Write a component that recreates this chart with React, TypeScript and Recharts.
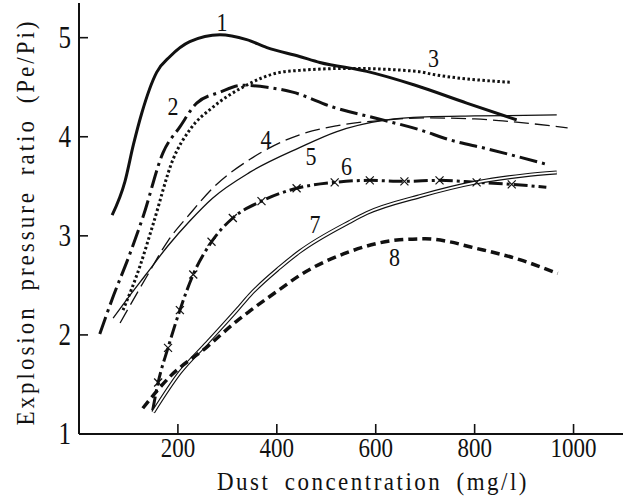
import React from 'react';
import { LineChart, Line, XAxis, YAxis, ReferenceDot } from 'recharts';

// axis ticks
const xTicks = [200, 400, 600, 800, 1000];
const yTicks = [1, 2, 3, 4, 5];

// [dust concentration (mg/l), Pe/Pi]
const curve1 = [
  [67, 3.21], [93, 3.55], [110, 3.92], [127, 4.24], [157, 4.65], [184, 4.81],
  [224, 4.96], [285, 5.03], [339, 4.98], [380, 4.9], [446, 4.81], [487, 4.75],
  [582, 4.66], [680, 4.52], [784, 4.34], [885, 4.17],
];
const curve2 = [
  [42, 2.01], [70, 2.4], [100, 2.78], [130, 3.2], [170, 3.84], [204, 4.1],
  [238, 4.34], [285, 4.45], [330, 4.52], [380, 4.5], [432, 4.45], [513, 4.3],
  [614, 4.17], [689, 4.07], [749, 3.97], [824, 3.88], [947, 3.72],
];
const curve3 = [
  [89, 2.25], [123, 2.69], [150, 3.12], [190, 3.77], [224, 4.07], [271, 4.3],
  [331, 4.5], [406, 4.65], [446, 4.67], [547, 4.69], [683, 4.66], [715, 4.63],
  [871, 4.55],
];
const curve4 = [
  [83, 2.12], [137, 2.59], [180, 2.95], [224, 3.22], [270, 3.48], [345, 3.77],
  [446, 4.02], [520, 4.11], [622, 4.17], [700, 4.19], [800, 4.18], [857, 4.16],
  [988, 4.09],
];
const curve5 = [
  [69, 2.17], [100, 2.38], [137, 2.62], [180, 2.9], [224, 3.15], [270, 3.38],
  [345, 3.64], [446, 3.89], [520, 4.05], [622, 4.17], [700, 4.2], [800, 4.21],
  [966, 4.22],
];
const curve6 = [
  [149, 1.24], [160, 1.52], [180, 1.87], [204, 2.25], [231, 2.61], [268, 2.94],
  [311, 3.18], [369, 3.35], [440, 3.48], [517, 3.54], [588, 3.56], [658, 3.55],
  [729, 3.56], [804, 3.54], [875, 3.52], [945, 3.49],
];
// which points of curve 6 carry an "x" marker
const curve6Marks = [1, 2, 3, 4, 5, 6, 7, 8, 9, 10, 11, 12, 13, 14];
const curve7 = [
  [150, 1.22], [204, 1.62], [259, 1.92], [319, 2.25], [345, 2.4], [406, 2.68],
  [446, 2.84], [547, 3.14], [582, 3.23], [689, 3.4], [804, 3.54], [900, 3.61],
  [966, 3.64],
];
const curve8 = [
  [129, 1.26], [184, 1.58], [259, 1.88], [319, 2.14], [345, 2.24], [406, 2.46],
  [446, 2.6], [547, 2.84], [648, 2.96], [700, 2.97], [749, 2.94], [790, 2.89],
  [891, 2.76], [968, 2.62],
];

const curveLabels = [
  { name: '1', x: 289, y: 5.15 },
  { name: '2', x: 190, y: 4.3 },
  { name: '3', x: 717, y: 4.78 },
  { name: '4', x: 378, y: 3.97 },
  { name: '5', x: 469, y: 3.8 },
  { name: '6', x: 541, y: 3.69 },
  { name: '7', x: 477, y: 3.11 },
  { name: '8', x: 638, y: 2.78 },
];

const INK = '#111';
const SERIF = '"Liberation Serif", "Times New Roman", serif';

const toPoints = (pts: number[][]) => pts.map(([x, y]) => ({ x, y }));

// text stretched vertically, the print uses a tall condensed face
const TallText = ({ x, y, size, stretch = 1.2, anchor = 'middle', rotate = 0, spacing = 0, wordSpacing = 0, children }: any) => (
  <text
    transform={`translate(${x},${y}) rotate(${rotate}) scale(1,${stretch})`}
    textAnchor={anchor}
    fontFamily={SERIF}
    fontSize={size}
    fill={INK}
    style={{ letterSpacing: spacing, wordSpacing }}
  >
    {children}
  </text>
);

const XTick = ({ x, y, payload }: any) => (
  <g>
    <line x1={x} y1={y} x2={x} y2={y - 10} stroke={INK} strokeWidth={1.6} />
    <TallText x={x} y={y + 23} size={23} stretch={1.22}>
      {payload.value}
    </TallText>
  </g>
);

const YTick = ({ x, y, payload }: any) => (
  <g>
    <line x1={x} y1={y} x2={x + 9} y2={y} stroke={INK} strokeWidth={1.6} />
    <TallText x={x - 8} y={y + 10} size={25} stretch={1.3} anchor="end">
      {payload.value}
    </TallText>
  </g>
);

const XTitle = ({ viewBox }: any) => {
  const vb = viewBox || { x: 79, y: 434 };
  return (
    <TallText x={vb.x + 294} y={vb.y + 56} size={23} stretch={1.12} spacing={2.5} wordSpacing={6}>
      Dust concentration (mg/l)
    </TallText>
  );
};

const YTitle = ({ viewBox }: any) => {
  const vb = viewBox || { x: 0, y: 3 };
  return (
    <TallText x={vb.x + 34} y={vb.y + 219} size={23} stretch={1.12} rotate={-90} spacing={3} wordSpacing={6}>
      Explosion pressure ratio (Pe/Pi)
    </TallText>
  );
};

const renderCross = (props: any) => {
  const { cx, cy, index } = props;
  if (!curve6Marks.includes(index)) return <g key={`c6-${index}`} />;
  const s = 4;
  return (
    <g key={`c6-${index}`}>
      <line x1={cx - s} y1={cy - s} x2={cx + s} y2={cy + s} stroke={INK} strokeWidth={1.2} />
      <line x1={cx - s} y1={cy + s} x2={cx + s} y2={cy - s} stroke={INK} strokeWidth={1.2} />
    </g>
  );
};

const CurveLabel = (props: any) => (
  <TallText x={props.cx} y={props.cy + 8} size={22} stretch={1.15}>
    {props.name}
  </TallText>
);

export default function App() {
  return (
    <div style={{ position: 'absolute', left: 0, top: 0, width: 626, height: 497, background: '#fff' }}>
      <LineChart width={626} height={497} margin={{ top: 3, right: 3, bottom: 0, left: 0 }}>
        <XAxis
          type="number"
          dataKey="x"
          domain={[0, 1100]}
          ticks={xTicks}
          interval={0}
          allowDataOverflow
          height={63}
          tickSize={0}
          tickMargin={0}
          tickLine={false}
          axisLine={{ stroke: INK, strokeWidth: 2 }}
          tick={<XTick />}
          label={<XTitle />}
        />
        <YAxis
          type="number"
          dataKey="y"
          domain={[1, 5.35]}
          ticks={yTicks}
          interval={0}
          allowDataOverflow
          width={79}
          tickSize={0}
          tickMargin={0}
          tickLine={false}
          axisLine={{ stroke: INK, strokeWidth: 2 }}
          tick={<YTick />}
          label={<YTitle />}
        />

        {/* 1: thick solid */}
        <Line data={toPoints(curve1)} dataKey="y" type="monotone" stroke={INK} strokeWidth={3} dot={false} isAnimationActive={false} />
        {/* 2: thick dash-dot */}
        <Line data={toPoints(curve2)} dataKey="y" type="monotone" stroke={INK} strokeWidth={3} strokeDasharray="18 5 3 5" dot={false} isAnimationActive={false} />
        {/* 3: dotted */}
        <Line data={toPoints(curve3)} dataKey="y" type="monotone" stroke={INK} strokeWidth={3} strokeDasharray="2.5 2.5" dot={false} isAnimationActive={false} />
        {/* 4: thin long dash */}
        <Line data={toPoints(curve4)} dataKey="y" type="monotone" stroke={INK} strokeWidth={1.3} strokeDasharray="15 6" dot={false} isAnimationActive={false} />
        {/* 5: thin solid */}
        <Line data={toPoints(curve5)} dataKey="y" type="monotone" stroke={INK} strokeWidth={1.3} dot={false} isAnimationActive={false} />
        {/* 6: dash-dot with x marks */}
        <Line data={toPoints(curve6)} dataKey="y" type="monotone" stroke={INK} strokeWidth={3} strokeDasharray="14 4 3 4" dot={renderCross} isAnimationActive={false} />
        {/* 7: double line */}
        <Line data={toPoints(curve7)} dataKey="y" type="monotone" stroke={INK} strokeWidth={4} dot={false} isAnimationActive={false} />
        <Line data={toPoints(curve7)} dataKey="y" type="monotone" stroke="#fff" strokeWidth={1.8} dot={false} isAnimationActive={false} />
        {/* 8: thick dashed */}
        <Line data={toPoints(curve8)} dataKey="y" type="monotone" stroke={INK} strokeWidth={3.5} strokeDasharray="9 5" dot={false} isAnimationActive={false} />

        {curveLabels.map((l) => (
          <ReferenceDot
            key={l.name}
            x={l.x}
            y={l.y}
            r={0}
            ifOverflow="visible"
            shape={(p: any) => <CurveLabel {...p} name={l.name} />}
          />
        ))}
      </LineChart>
    </div>
  );
}
